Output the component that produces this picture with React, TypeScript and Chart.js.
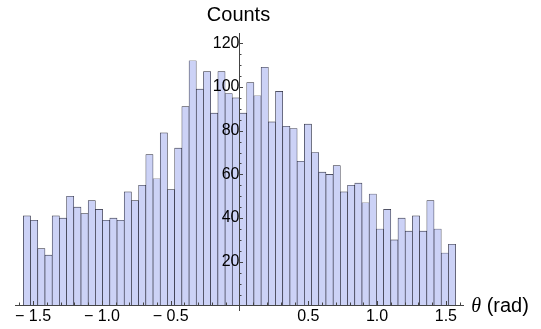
import React, { useEffect, useRef } from "react";
import { Chart, registerables } from "chart.js";

Chart.register(...registerables);

// Histogram counts, 60 bins of width pi/60 from -pi/2 to pi/2
const counts: number[] = [
  41, 39, 26, 23, 41, 40, 50, 45, 42, 48,
  44, 39, 40, 39, 52, 48, 55, 69, 58, 79,
  53, 72, 91, 112, 99, 107, 88, 107, 97, 95,
  88, 102, 96, 109, 84, 98, 82, 81, 66, 83,
  70, 61, 60, 64, 52, 55, 56, 47, 51, 35,
  44, 30, 40, 34, 41, 34, 48, 35, 24, 28,
];
const binStart = -Math.PI / 2;
const binWidth = Math.PI / 60;

const xTickValues: number[] = [-1.5, -1.0, -0.5, 0.5, 1.0, 1.5];
const yTickValues: number[] = [20, 40, 60, 80, 100, 120];
const yAxisTitle = "Counts";
const xAxisSymbol = "θ";
const xAxisUnit = " (rad)";

const X_MIN = -1.6315;
const X_MAX = 1.6265;
const Y_MIN = -2.4;
const Y_MAX = 124.7;

const AXIS = "#444444";
const SANS = '"Liberation Sans", Arial, sans-serif';

const fmtX = (v: number) =>
  v < 0 ? "\u2212 " + Math.abs(v).toFixed(1) : v.toFixed(1);

const decorPlugin = {
  id: "decor",
  afterDraw(chart: any) {
    const { ctx, scales } = chart;
    const x = scales.x;
    const y = scales.y;
    const x0 = x.getPixelForValue(0);
    const y0 = y.getPixelForValue(0);
    ctx.save();
    ctx.strokeStyle = AXIS;
    ctx.lineWidth = 1;
    ctx.beginPath();
    for (let k = -16; k <= 16; k++) {
      if (k === 0) continue;
      const px = Math.round(x.getPixelForValue(k / 10)) + 0.5;
      const len = k % 5 === 0 ? 4 : 2.5;
      ctx.moveTo(px, Math.round(y0));
      ctx.lineTo(px, Math.round(y0) - len);
    }
    for (let k = 1; k <= 24; k++) {
      const py = Math.round(y.getPixelForValue(k * 5)) + 0.5;
      const len = k % 4 === 0 ? 4 : 2.5;
      ctx.moveTo(Math.round(x0), py);
      ctx.lineTo(Math.round(x0) + len, py);
    }
    ctx.stroke();

    ctx.fillStyle = "#000";
    ctx.textBaseline = "alphabetic";
    ctx.font = "20px " + SANS;
    ctx.textAlign = "center";
    ctx.fillText(yAxisTitle, x0 - 1, 21);

    ctx.textAlign = "left";
    const tx = x.right + 8;
    const ty = 312;
    ctx.font = 'italic 20px "Liberation Serif", "Times New Roman", serif';
    ctx.fillText(xAxisSymbol, tx, ty);
    const w = ctx.measureText(xAxisSymbol).width;
    ctx.font = "20px " + SANS;
    ctx.fillText(xAxisUnit, tx + w, ty);
    ctx.restore();
  },
};

export default function App() {
  const ref = useRef<HTMLCanvasElement | null>(null);

  useEffect(() => {
    if (!ref.current) return;
    const data = counts.map((c, i) => ({
      x: binStart + (i + 0.5) * binWidth,
      y: c,
    }));
    const chart = new Chart(ref.current, {
      type: "bar",
      data: {
        datasets: [
          {
            data: data as any,
            backgroundColor: "rgb(204, 210, 246)",
            borderColor: "rgba(30, 30, 45, 0.95)",
            borderWidth: 0.65,
            barPercentage: 1,
            categoryPercentage: 1,
          },
        ],
      },
      options: {
        animation: false,
        responsive: false,
        devicePixelRatio: 1,
        layout: { padding: { left: 15, right: 77.7, top: 33, bottom: 18.3 } },
        plugins: {
          legend: { display: false },
          tooltip: { enabled: false },
          title: { display: false },
        },
        scales: {
          x: {
            type: "linear",
            min: X_MIN,
            max: X_MAX,
            offset: false,
            position: { y: 0 } as any,
            grid: { display: false, drawTicks: false, offset: false },
            border: { display: true, color: AXIS, width: 1, z: 1 },
            afterBuildTicks: (s: any) => {
              s.ticks = xTickValues.map((v) => ({ value: v }));
            },
            ticks: {
              z: 1,
              padding: 2,
              color: "#000",
              font: { family: SANS, size: 16 },
              maxRotation: 0,
              autoSkip: false,
              callback: (v: any) => fmtX(Number(v)),
            },
          },
          y: {
            type: "linear",
            min: Y_MIN,
            max: Y_MAX,
            position: { x: 0 } as any,
            grid: { display: false, drawTicks: false },
            border: { display: true, color: AXIS, width: 1, z: 1 },
            afterBuildTicks: (s: any) => {
              s.ticks = yTickValues.map((v) => ({ value: v }));
            },
            ticks: {
              z: 1,
              padding: 3,
              color: "#000",
              font: { family: SANS, size: 16 },
              autoSkip: false,
              callback: (v: any) => String(v),
            },
          },
        },
      },
      plugins: [decorPlugin],
    });
    return () => chart.destroy();
  }, []);

  return (
    <div style={{ position: "absolute", left: 0, top: 0, width: 541, height: 329 }}>
      <canvas ref={ref} width={541} height={329} style={{ width: 541, height: 329 }} />
    </div>
  );
}
